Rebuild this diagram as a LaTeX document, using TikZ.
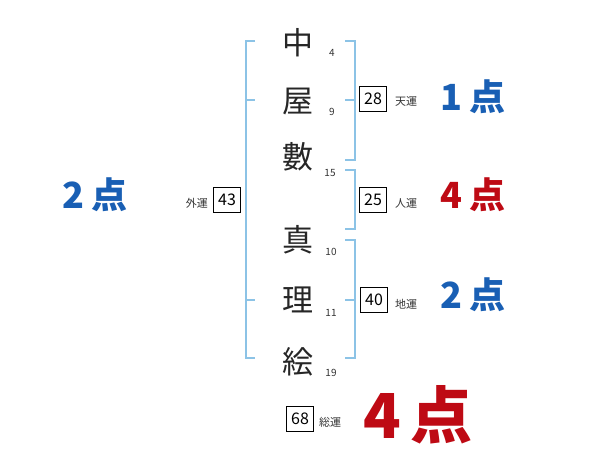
\documentclass[tikz,border=0pt]{standalone}
\usepackage{fontspec}
\setmainfont{Noto Sans CJK JP}
\definecolor{brk}{RGB}{140,195,230}
\definecolor{sblue}{RGB}{25,95,180}
\definecolor{sred}{RGB}{190,10,20}
\begin{document}
\begin{tikzpicture}[x=1pt,y=-1pt,
  brline/.style={draw=brk,line width=1.6pt},
  kanji/.style={font=\fontsize{31}{31}\selectfont,inner sep=0pt,text=black!85},
  snum/.style={font=\fontsize{10}{10}\selectfont,inner sep=0pt,text=black!80},
  unbox/.style={draw=black,line width=0.7pt,minimum width=27pt,minimum height=25pt,inner sep=0pt,font=\fontsize{16}{16}\selectfont},
  unlab/.style={font=\fontsize{11}{11}\selectfont,inner sep=0pt,text=black!80},
  score/.style={font=\fontsize{36}{36}\selectfont\bfseries,inner sep=0pt},
  bigscore/.style={font=\fontsize{62}{62}\selectfont\bfseries,inner sep=0pt}]
\useasboundingbox (0,0) rectangle (600,470);
% left bracket
\draw[brline] (255,41) -- (246,41) -- (246,358) -- (255,358);
\draw[brline] (246,100) -- (255,100);
\draw[brline] (246,300) -- (255,300);
% right brackets
\draw[brline] (345,41) -- (355,41) -- (355,160) -- (345,160);
\draw[brline] (345,100) -- (355,100);
\draw[brline] (345,170) -- (355,170) -- (355,229) -- (345,229);
\draw[brline] (345,240) -- (355,240) -- (355,358) -- (345,358);
\draw[brline] (345,300) -- (355,300);
% kanji
\node[kanji] (k1) at (298,43) {中};
\node[kanji] (k2) at (298,102) {屋};
\node[kanji] (k3) at (298,157) {數};
\node[kanji] (k4) at (298,240) {真};
\node[kanji] (k5) at (298,300) {理};
\node[kanji] (k6) at (298,362) {絵};
% stroke counts
\node[snum] (n1) at (332,53) {4};
\node[snum] (n2) at (332,112) {9};
\node[snum] (n3) at (330,173) {15};
\node[snum] (n4) at (331,252) {10};
\node[snum] (n5) at (331,313) {11};
\node[snum] (n6) at (331,373) {19};
% boxes
\node[unbox] (ten) at (373,99) {28};
\node[unlab,anchor=west] (tenl) at (395,101) {天運};
\node[unbox] (jin) at (373,200) {25};
\node[unlab,anchor=west] (jinl) at (395,203) {人運};
\node[unbox] (chi) at (374,300) {40};
\node[unlab,anchor=west] (chil) at (395,304) {地運};
\node[unbox] (gai) at (227,200) {43};
\node[unlab,anchor=east] (gail) at (208,203) {外運};
\node[unbox] (sou) at (300,419) {68};
\node[unlab,anchor=west] (soul) at (319,422) {総運};
% scores
\node[score,text=sblue] (s1) at (473,97) {1\hspace{8pt}点};
\node[score,text=sred] (s2) at (473,195) {4\hspace{8pt}点};
\node[score,text=sblue] (s3) at (473,295) {2\hspace{8pt}点};
\node[score,text=sblue] (s4) at (95,195) {2\hspace{8pt}点};
\node[bigscore,text=sred] (s5) at (418,415) {4\hspace{10pt}点};
\end{tikzpicture}
\end{document}
